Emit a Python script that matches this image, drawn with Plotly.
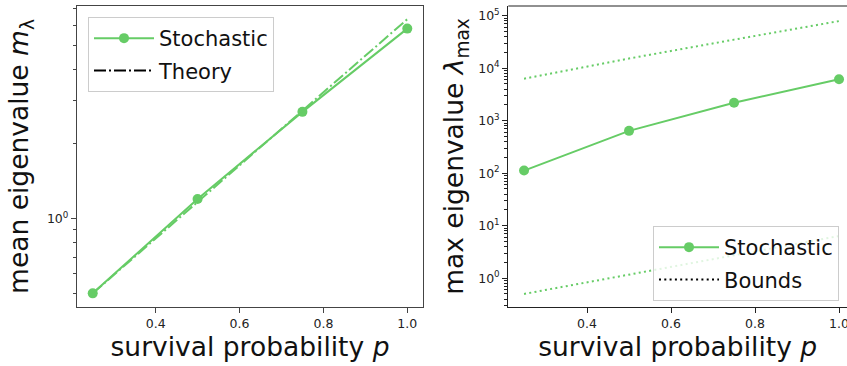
import plotly.graph_objects as go

# ---- data ----
p_vals = [0.25, 0.5, 0.75, 1.0]
mean_stochastic = [0.50, 1.20, 2.69, 5.82]
mean_theory = [0.50, 1.17, 2.72, 6.35]
max_stochastic = [112, 640, 2200, 6150]
upper_bound = [6300, 15300, 35000, 79000]
lower_bound = [0.50, 1.17, 2.72, 6.35]

left_minor = [0.5, 0.6, 0.7, 0.8, 0.9, 2, 3, 4, 5, 6, 7]
right_major = [1, 10, 100, 1000, 10000, 100000]
right_major_text = ["10<sup>0</sup>", "10<sup>1</sup>", "10<sup>2</sup>",
                    "10<sup>3</sup>", "10<sup>4</sup>", "10<sup>5</sup>"]
right_minor = [m * 10 ** e for e in range(-1, 6) for m in range(2, 10)]
x_ticks = [0.4, 0.6, 0.8, 1.0]
x_tick_text = ["0.4", "0.6", "0.8", "1.0"]

GREEN = "#66cc66"
FONT = "DejaVu Sans"
W, H = 847, 366

fig = go.Figure()

# left panel
fig.add_trace(go.Scatter(x=p_vals, y=mean_stochastic, mode="lines+markers", name="Stochastic",
                         line=dict(color=GREEN, width=2), marker=dict(size=10, color=GREEN),
                         xaxis="x", yaxis="y", legend="legend", legendgroup="a"))
fig.add_trace(go.Scatter(x=p_vals, y=mean_theory, mode="lines", name="Theory", showlegend=False,
                         line=dict(color=GREEN, width=2, dash="12px,3px,2px,3px"),
                         xaxis="x", yaxis="y"))
fig.add_trace(go.Scatter(x=[None], y=[None], mode="lines", name="Theory",
                         line=dict(color="black", width=2, dash="12px,3px,2px,3px"),
                         xaxis="x", yaxis="y", legend="legend", legendgroup="b"))

# right panel
fig.add_trace(go.Scatter(x=p_vals, y=upper_bound, mode="lines", showlegend=False,
                         line=dict(color=GREEN, width=2, dash="2px,3.3px"),
                         xaxis="x2", yaxis="y2"))
fig.add_trace(go.Scatter(x=p_vals, y=lower_bound, mode="lines", showlegend=False,
                         line=dict(color=GREEN, width=2, dash="2px,3.3px"),
                         xaxis="x2", yaxis="y2"))
fig.add_trace(go.Scatter(x=p_vals, y=max_stochastic, mode="lines+markers", name="Stochastic",
                         line=dict(color=GREEN, width=2), marker=dict(size=10, color=GREEN),
                         xaxis="x2", yaxis="y2", legend="legend2", legendgroup="c"))
fig.add_trace(go.Scatter(x=[None], y=[None], mode="lines", name="Bounds",
                         line=dict(color="black", width=2, dash="2px,3.3px"),
                         xaxis="x2", yaxis="y2", legend="legend2", legendgroup="d"))

tickfont = dict(family=FONT, size=12.5, color="#222")
titlefont = dict(family=FONT, size=26.5, color="#111")

def xax(domain, rng, mirror, color, anchor):
    return dict(domain=domain, range=rng, anchor=anchor, tickvals=x_ticks, ticktext=x_tick_text,
                ticks="outside", ticklen=5, tickwidth=1, tickcolor=color,
                showline=True, linecolor=color, linewidth=1.2, mirror=mirror,
                showgrid=False, zeroline=False, tickfont=tickfont, ticklabeloverflow="allow",
                title=dict(text="survival probability <i>p</i>", font=titlefont, standoff=1),
                automargin=False)

legend_common = dict(xanchor="left", yanchor="top", itemwidth=60,
                     traceorder="grouped", tracegroupgap=2,
                     bgcolor="rgba(255,255,255,0.8)", bordercolor="#cccccc", borderwidth=1,
                     font=dict(family=FONT, size=21, color="#111"))

fig.update_layout(
    width=W, height=H,
    margin=dict(l=0, r=0, t=6, b=59),
    paper_bgcolor="white", plot_bgcolor="white",
    font=dict(family=FONT),
    xaxis=xax([77 / W, 423 / W], [0.2125, 1.0375], True, "#444", "y"),
    xaxis2=xax([508.3 / W, 1.0], [0.2125, 1.019], False, "#222", "y2"),
    yaxis=dict(domain=[0, 1], type="log", range=[-0.356, 0.856], anchor="x",
               tickvals=[1], ticktext=["10<sup>0</sup>"],
               ticks="outside", ticklen=5, tickwidth=1, tickcolor="#444",
               minor=dict(tickmode="array", tickvals=left_minor, ticks="outside",
                          ticklen=3, tickwidth=0.8, tickcolor="#444"),
               showline=True, linecolor="#444", linewidth=1.2, mirror=True,
               showgrid=False, zeroline=False, tickfont=tickfont,
               title=dict(text="mean eigenvalue <i>m</i><sub>λ</sub>", font=titlefont, standoff=10),
               automargin=False),
    yaxis2=dict(domain=[0, 1], type="log", range=[-0.55, 5.185], anchor="x2",
                tickvals=right_major, ticktext=right_major_text,
                ticks="outside", ticklen=5, tickwidth=1, tickcolor="#222",
                minor=dict(tickmode="array", tickvals=right_minor, ticks="outside",
                           ticklen=3, tickwidth=0.8, tickcolor="#222"),
                showline=True, linecolor="#222", linewidth=1.2, mirror=False,
                showgrid=False, zeroline=False, tickfont=tickfont,
                title=dict(text="max eigenvalue <i>λ</i><sub>max</sub>", font=titlefont, standoff=6),
                automargin=False),
    shapes=[dict(type="line", xref="x2 domain", yref="y2 domain", x0=0, x1=1, y0=1, y1=1,
                 line=dict(color="#222", width=1.2))],
    legend=dict(x=88 / W, y=(307 - 17) / 301, **legend_common),
    legend2=dict(x=653 / W, y=(307 - 226) / 301, **legend_common),
)

fig.write_html("out.html")
